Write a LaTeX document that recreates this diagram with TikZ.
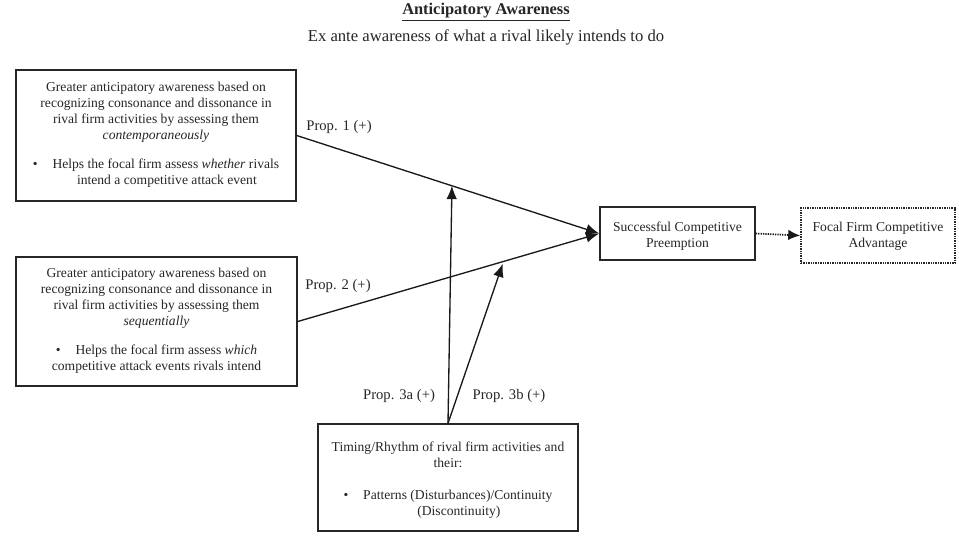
\documentclass[tikz,border=0pt]{standalone}
\usepackage{fontspec}
\setmainfont{Liberation Serif}
\usetikzlibrary{arrows.meta,calc}
\begin{document}
\begin{tikzpicture}[x=0.75pt,y=-0.75pt,
  box/.style={draw=black!85,line width=1.1pt,rectangle,inner sep=0pt},
  btxt/.style={align=center,font=\fontsize{10.2}{12}\selectfont,text=black!85},
  lbl/.style={font=\fontsize{11}{13}\selectfont,text=black!85},
  arr/.style={draw=black!90,line width=1pt,-{Latex[length=10pt,width=8pt]}},
  darr/.style={draw=black!90,line width=1.3pt,dash pattern=on 1pt off 0.8pt,-{Latex[length=9pt,width=8pt]}}]
\useasboundingbox (0,0) rectangle (959,544);
\node[font=\fontsize{12.3}{14}\selectfont\bfseries,text=black!85] (t1) at (486,12) {\underline{Anticipatory Awareness}};
\node[font=\fontsize{12.5}{14}\selectfont,text=black!85] (t2) at (486,37) {Ex ante awareness of what a rival likely intends to do};

\node[box,minimum width=210pt,minimum height=98.25pt] (A) at (156,135.5) {};
\node[btxt] (At) at (156,134.5) {Greater anticipatory awareness based on\\ recognizing consonance and dissonance in\\ rival firm activities by assessing them\\ \textit{contemporaneously}\\[10pt]
\textbullet\hspace{1.1em}Helps the focal firm assess \textit{whether} rivals\\ \hspace{1.6em}intend a competitive attack event};

\node[box,minimum width=210.75pt,minimum height=96.75pt] (B) at (156.5,321.5) {};
\node[btxt] (Bt) at (156.5,320.5) {Greater anticipatory awareness based on\\ recognizing consonance and dissonance in\\ rival firm activities by assessing them\\ \textit{sequentially}\\[10pt]
\textbullet\hspace{1.1em}Helps the focal firm assess \textit{which}\\ competitive attack events rivals intend};

\node[box,minimum width=116.25pt,minimum height=39.75pt] (C) at (677.5,233.5) {};
\node[btxt] (Ct) at (677.5,236.5) {Successful Competitive\\ Preemption};
\node[box,dash pattern=on 1pt off 0.8pt,line width=1.2pt,minimum width=115.5pt,minimum height=41.25pt] (D) at (878,235.5) {};
\node[btxt] (Dt) at (878,236.5) {Focal Firm Competitive\\ Advantage};

\node[box,minimum width=195pt,minimum height=80.25pt] (E) at (448,477.5) {};
\node[btxt] (Et) at (448,480) {Timing/Rhythm of rival firm activities and\\ their:\\[12pt]
\textbullet\hspace{1.1em}Patterns (Disturbances)/Continuity\\ \hspace{1.6em}(Discontinuity)};

\coordinate (a1) at (A.east);
\coordinate (b1) at (B.east);
\coordinate (c1) at (C.west);
\coordinate (p1) at ($(a1)!0.513!(c1)$);
\coordinate (p2) at ($(b1)!0.68!(c1)+(0,2)$);
\coordinate (e1) at (E.north);

\draw[arr] (a1) -- (c1);
\draw[arr] (b1) -- (c1);
\draw[arr] (e1) -- (p1);
\draw[arr] (e1) -- (p2);
\draw[darr] (C.east) -- (D.west);

\node[lbl] (l1) at (339,127) {Prop. 1 (+)};
\node[lbl] (l2) at (338,286) {Prop. 2 (+)};
\node[lbl] (l3) at (399,396) {Prop. 3a (+)};
\node[lbl] (l4) at (509,396) {Prop. 3b (+)};
\end{tikzpicture}
\end{document}
